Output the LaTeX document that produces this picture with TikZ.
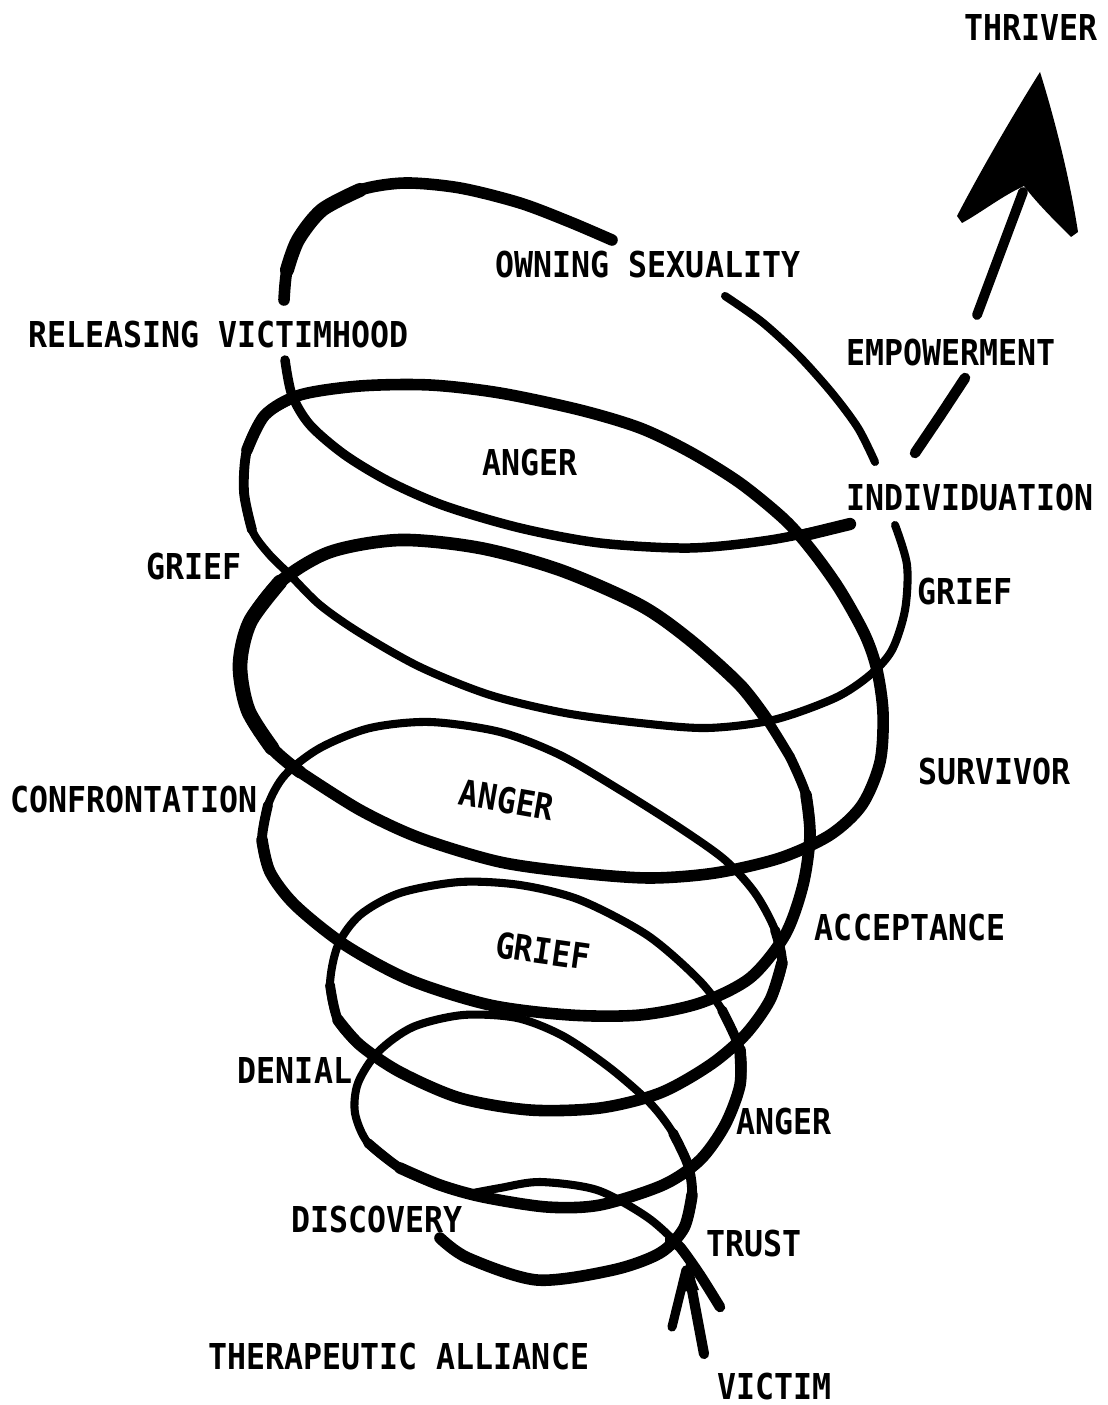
\documentclass[tikz,border=0pt]{standalone}
\usepackage{fontspec}
\newfontfamily\stagefont[FakeStretch=0.885]{DejaVu Sans Mono Bold}
\usetikzlibrary{arrows.meta}
\tikzset{
  stage/.style={font=\stagefont\fontsize{20.3}{24}\selectfont,inner sep=0pt,anchor=center},
  strand/.style={line cap=round,line join=round,line width=#1},
  strand/.default=4.6pt,
  half/.style={strand=5.6pt},
  front/.style={strand=6.6pt}
}

\begin{document}
\begin{tikzpicture}[x=0.02cm,y=-0.02cm]
  \useasboundingbox (0,0) rectangle (1107,1405);

  % the spiral, from the inner end at DISCOVERY outwards
  \draw[strand] plot[smooth] coordinates {(440,1238) (468,1258) (537,1280) (613,1270) (660,1253) (684,1228) (692,1195)
    (688,1165) (673,1133) (650,1103) (610,1068) (563,1036) (517,1018) (463,1015) (413,1027) (378,1052) (358,1083)
    (355,1113) (368,1143) (400,1168) (440,1185) (483,1197) (547,1207) (600,1205) (663,1185) (700,1160) (725,1125)
    (740,1085) (740,1050) (722,1010) (697,978) (647,935) (580,900) (520,885) (460,882) (400,893) (360,915) (338,945)
    (330,985) (338,1020) (360,1045) (400,1072) (460,1098) (530,1110) (600,1108) (660,1093) (710,1065) (745,1035)
    (770,1000) (782,963) (775,930) (755,893) (725,860) (680,828) (620,790) (560,755) (500,732) (430,722) (370,728)
    (320,748) (285,775) (268,805) (262,840) (270,872) (295,905) (345,945) (410,980) (490,1005) (570,1015) (640,1015)
    (700,1003) (750,978) (785,935) (803,885) (810,835) (806,795) (790,757) (767,720) (740,685) (690,640) (640,605)
    (560,570) (480,548) (400,540) (330,552) (280,582) (250,622) (240,665) (248,710) (272,748) (300,772) (360,810)
    (420,838) (500,862) (580,873) (650,878) (715,873) (780,858) (830,835) (862,805) (880,762) (883,713) (877,670)
    (865,635) (840,590) (813,552) (785,520) (740,483) (690,452) (640,428) (580,410) (500,393) (430,385) (360,386)
    (300,395) (265,415) (247,450) (244,492) (252,530) (268,553) (290,575) (320,605) (360,633) (420,667) (490,695)
    (565,713) (640,723) (707,728) (773,720) (835,698) (870,675) (892,650) (905,610) (907,565) (895,525)};
  % heavier front arcs, tapered
  \draw[half] plot[smooth] coordinates {(440,1238) (468,1258) (537,1280) (613,1270) (660,1253) (684,1228) (692,1195) (688,1165) (673,1133)};
  \draw[front] plot[smooth] coordinates {(440,1238) (468,1258) (537,1280) (613,1270) (660,1253) (684,1228) (692,1195)};
  \draw[half] plot[smooth] coordinates {(368,1143) (400,1168) (440,1185) (483,1197) (547,1207) (600,1205) (663,1185) (700,1160) (725,1125) (740,1085) (740,1050) (722,1010)};
  \draw[front] plot[smooth] coordinates {(400,1168) (440,1185) (483,1197) (547,1207) (600,1205) (663,1185) (700,1160) (725,1125) (740,1085) (740,1050)};
  \draw[half] plot[smooth] coordinates {(330,985) (338,1020) (360,1045) (400,1072) (460,1098) (530,1110) (600,1108) (660,1093) (710,1065) (745,1035) (770,1000) (782,963) (775,930)};
  \draw[front] plot[smooth] coordinates {(338,1020) (360,1045) (400,1072) (460,1098) (530,1110) (600,1108) (660,1093) (710,1065) (745,1035) (770,1000) (782,963)};
  \draw[half] plot[smooth] coordinates {(268,805) (262,840) (270,872) (295,905) (345,945) (410,980) (490,1005) (570,1015) (640,1015) (700,1003) (750,978) (785,935) (803,885) (810,835) (806,795) (790,757)};
  \draw[front] plot[smooth] coordinates {(262,840) (270,872) (295,905) (345,945) (410,980) (490,1005) (570,1015) (640,1015) (700,1003) (750,978) (785,935) (803,885) (810,835) (806,795)};
  \draw[half] plot[smooth] coordinates {(790,757) (767,720) (740,685) (690,640) (640,605) (560,570) (480,548) (400,540) (330,552) (280,582) (250,622) (240,665) (248,710) (272,748) (300,772) (360,810)};
  \draw[strand=7.2pt] plot[smooth] coordinates {(767,720) (740,685) (690,640) (640,605) (560,570) (480,548) (400,540) (330,552) (280,582) (250,622) (240,665) (248,710) (272,748) (300,772)};
  \draw[strand=8.4pt] plot[smooth] coordinates {(280,582) (250,622) (240,665) (248,710) (272,748)};
  \draw[front] plot[smooth] coordinates {(300,772) (360,810) (420,838) (500,862) (580,873) (650,878) (715,873) (780,858) (830,835) (862,805) (880,762) (883,713) (877,670) (865,635) (840,590) (813,552) (785,520) (740,483) (690,452) (640,428) (580,410) (500,393) (430,385) (360,386) (300,395) (265,415) (247,450)};
  \draw[half] plot[smooth] coordinates {(300,395) (265,415) (247,450) (244,492) (252,530)};
  % the outer turn, broken by the labels
  \draw[strand] plot[smooth] coordinates {(875,462) (858,428) (832,393) (798,355) (762,322) (725,296)};
  \draw[front] plot[smooth] coordinates {(612,240) (570,222) (520,203) (460,188) (405,183) (360,190) (322,210) (298,240) (287,270) (284,300)};
  \draw[strand=8pt] plot[smooth] coordinates {(360,190) (322,210) (298,240) (287,270)};
  \draw[strand=5.4pt] plot[smooth] coordinates {(285,360) (292,395) (310,425) (345,455) (390,482) (445,506) (520,528) (600,543) (690,548) (770,540) (850,524)};
  \draw[strand=7pt] (805,535) -- (850,524);
  \draw[strand] plot[smooth] coordinates {(468,1194) (500,1188) (540,1182) (597,1190) (647,1217) (680,1247) (700,1275) (720,1307)};
  \draw[strand=6pt] plot[smooth] coordinates {(670,1240) (680,1247) (700,1275) (720,1307)};

  % arrow from VICTIM
  \draw[strand=5.8pt] (704,1354) -- (689,1274);
  \draw[strand=5.2pt] (672,1327) -- (686,1270);
  \fill (679,1292) -- (687,1260) -- (699,1290) -- cycle;

  % arrow to THRIVER
  \draw[strand=6pt] (915,453) -- (940,416) -- (965,378);
  \draw[strand=5.6pt] (977,315) -- (1023,192);
  \fill[line join=round] (1040,72) .. controls (1055,120) and (1070,180) .. (1078,232)
    -- (1071,237) .. controls (1052,218) and (1036,202) .. (1024,186)
    .. controls (1002,196) and (982,212) .. (962,223)
    -- (957,216) .. controls (982,168) and (1016,110) .. cycle;

  % stages
  \node[stage] (thriver) at (1031,28) {THRIVER};
  \node[stage] (owning) at (648,265) {OWNING SEXUALITY};
  \node[stage] (releasing) at (219,335) {RELEASING VICTIMHOOD};
  \node[stage] (empower) at (951,353) {EMPOWERMENT};
  \node[stage] (angertop) at (530,463) {ANGER};
  \node[stage] (indiv) at (970,498) {INDIVIDUATION};
  \node[stage] (griefleft) at (194,567) {GRIEF};
  \node[stage] (griefright) at (965,592) {GRIEF};
  \node[stage] (survivor) at (994,772) {SURVIVOR};
  \node[stage] (confront) at (134,800) {CONFRONTATION};
  \node[stage,rotate=-10] (angermid) at (507,800) {ANGER};
  \node[stage] (accept) at (910,928) {ACCEPTANCE};
  \node[stage,rotate=-8] (griefmid) at (543,951) {GRIEF};
  \node[stage] (denial) at (295,1070) {DENIAL};
  \node[stage] (angerlow) at (784,1122) {ANGER};
  \node[stage] (discovery) at (377,1220) {DISCOVERY};
  \node[stage] (trust) at (754,1244) {TRUST};
  \node[stage] (alliance) at (399,1357) {THERAPEUTIC ALLIANCE};
  \node[stage] (victim) at (774,1386) {VICTIM};
\end{tikzpicture}
\end{document}
